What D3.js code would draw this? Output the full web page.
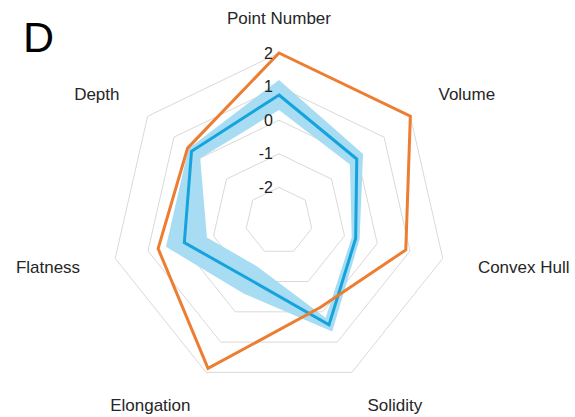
<!DOCTYPE html>
<html>
<head>
<meta charset="utf-8">
<script src="https://cdn.jsdelivr.net/npm/d3@7/dist/d3.min.js"></script>
<style>
  html, body { margin: 0; padding: 0; background: #fff; }
  svg { display: block; font-family: "Liberation Sans", Arial, sans-serif; }
</style>
</head>
<body>
<svg id="chart" width="575" height="417"></svg>
<script>
// Shape descriptors (z-scores) on a seven-axis radar
const categories = ["Point Number", "Volume", "Convex Hull", "Solidity", "Elongation", "Flatness", "Depth"];
const sampleValues = [2.0, 2.0, 0.87, -0.15, 1.87, 0.69, 0.48];
const meanValues   = [0.75, -0.04, -0.66, 0.43, -1.05, -0.11, 0.33];
const bandLower    = [0.3, -0.3, -0.78, 0.2, -1.5, -0.8, 0.0];
const bandUpper    = [1.2, 0.2, -0.54, 0.65, -0.6, 0.45, 0.45];
const ringTicks    = [-2, -1, 0, 1, 2];

const svg = d3.select("#chart");
const cx = 279, cy = 221, outerR = 168, labelR = 204;
const n = categories.length;

const r = d3.scaleLinear().domain([-3, 2]).range([0, outerR]);
const angle = i => i * 2 * Math.PI / n;

const g = svg.append("g").attr("transform", `translate(${cx},${cy})`);

const radial = d3.lineRadial()
  .angle((d, i) => angle(i))
  .radius(d => r(d))
  .curve(d3.curveLinearClosed);

// grid heptagons
g.append("g").selectAll("path")
  .data(ringTicks)
  .join("path")
  .attr("d", t => radial(categories.map(() => t)))
  .attr("fill", "none")
  .attr("stroke", "#d9d9d9")
  .attr("stroke-width", 1);

// spread band around the mean profile (outer ring minus inner ring)
g.append("path")
  .attr("d", radial(bandUpper) + radial(bandLower))
  .attr("fill", "#a7dcf3")
  .attr("fill-rule", "evenodd")
  .attr("stroke", "none");

// mean profile
g.append("path")
  .attr("d", radial(meanValues))
  .attr("fill", "none")
  .attr("stroke", "#14a3dc")
  .attr("stroke-width", 3)
  .attr("stroke-linejoin", "miter");

// single sample profile
g.append("path")
  .attr("d", radial(sampleValues))
  .attr("fill", "none")
  .attr("stroke", "#ed7d31")
  .attr("stroke-width", 3)
  .attr("stroke-linejoin", "miter");

// ring value labels along the top axis
g.append("g").selectAll("text")
  .data(ringTicks)
  .join("text")
  .attr("x", -6)
  .attr("y", t => -r(t))
  .attr("text-anchor", "end")
  .attr("dominant-baseline", "central")
  .attr("font-size", 16)
  .attr("fill", "#222")
  .text(d => d);

// axis labels
g.append("g").selectAll("text")
  .data(categories)
  .join("text")
  .attr("x", (d, i) => labelR * Math.sin(angle(i)))
  .attr("y", (d, i) => -labelR * Math.cos(angle(i)) + 1)
  .attr("text-anchor", (d, i) => {
    const s = Math.sin(angle(i));
    return Math.abs(s) < 1e-6 ? "middle" : (s > 0 ? "start" : "end");
  })
  .attr("dominant-baseline", "central")
  .attr("font-size", 17)
  .attr("fill", "#262626")
  .text(d => d);

// panel letter
svg.append("text")
  .attr("x", 23)
  .attr("y", 52)
  .attr("font-size", 43)
  .attr("fill", "#000")
  .text("D");
</script>
</body>
</html>
